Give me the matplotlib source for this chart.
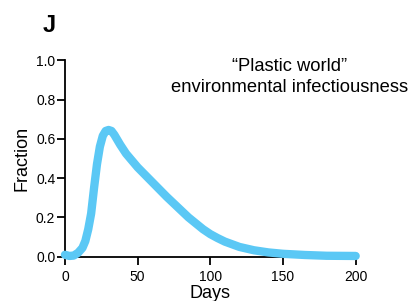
import matplotlib
matplotlib.use("Agg")
import matplotlib.pyplot as plt

plt.rcParams["font.family"] = ["Liberation Sans", "DejaVu Sans"]

# valeurs (jours, fraction)
days = [0, 3, 6, 9, 12, 14, 16, 18, 20, 22, 24, 26, 28, 30, 32, 34, 36, 38,
        42, 46, 50, 54, 58, 62, 66, 70, 75, 80, 85, 90, 95, 100, 105,
        110, 120, 130, 140, 150, 165, 180, 200]
fraction = [0.01, 0.004, 0.006, 0.02, 0.045, 0.08, 0.14, 0.22, 0.35, 0.47,
            0.56, 0.615, 0.64, 0.645, 0.64, 0.62, 0.595, 0.57,
            0.525, 0.49, 0.455, 0.425, 0.395, 0.365, 0.335, 0.305, 0.27,
            0.235, 0.20, 0.17, 0.14, 0.115, 0.095,
            0.077, 0.05, 0.033, 0.022, 0.015, 0.009, 0.005, 0.004]

x_ticks = [0, 50, 100, 150, 200]
y_ticks = [0.0, 0.2, 0.4, 0.6, 0.8, 1.0]

fig = plt.figure(figsize=(4.10, 3.01), dpi=100)
ax = fig.add_axes([0.1585, 0.147, 0.709, 0.653])

ax.plot(days, fraction, color="#5BC8F5", lw=6, solid_capstyle="round",
        solid_joinstyle="round", clip_on=False, zorder=3)

ax.set_xlim(0, 200)
ax.set_ylim(0, 1.0)
ax.set_xticks(x_ticks)
ax.set_yticks(y_ticks)
ax.set_yticklabels([f"{v:.1f}" for v in y_ticks])
ax.tick_params(direction="out", length=5.5, width=1.3, labelsize=10)
ax.tick_params(axis="x", pad=4)
ax.tick_params(axis="y", pad=1.5)
for side in ["top", "right"]:
    ax.spines[side].set_visible(False)
for side in ["left", "bottom"]:
    ax.spines[side].set_linewidth(1.3)

ax.set_xlabel("Days", fontsize=13, labelpad=0.5)
ax.set_ylabel("Fraction", fontsize=13, labelpad=4)

fig.text(0.707, 0.745, "\u201cPlastic world\u201d\nenvironmental infectiousness",
         ha="center", va="center", fontsize=13.2, linespacing=1.3)
fig.text(0.12, 0.915, "J", ha="center", va="center", fontsize=17,
         fontweight="bold")

fig.savefig("out.png", dpi=100)
